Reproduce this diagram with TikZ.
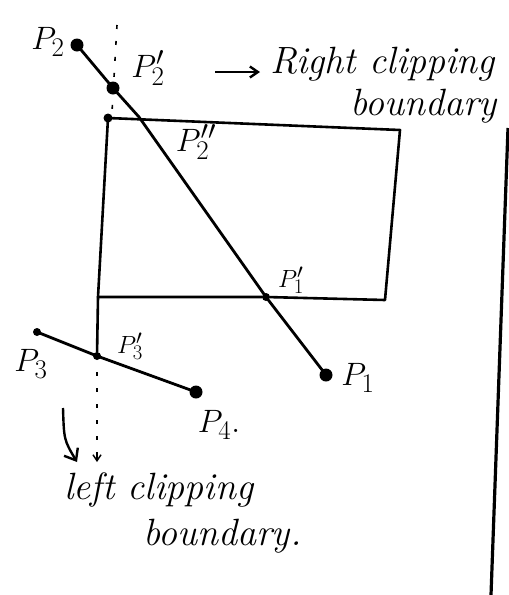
\documentclass[tikz,border=0pt]{standalone}
\usepackage{fontspec}
\usetikzlibrary{arrows.meta}
\newcommand{\biglab}[1]{\scalebox{1.3}{\Huge$#1$}}
\newcommand{\smllab}[1]{\scalebox{1.0}{\Huge$#1$}}
\begin{document}
\begin{tikzpicture}[x=1pt,y=-1pt,
  ln/.style={line width=2.8pt,line cap=round,line join=round},
  bd/.style={line width=2.6pt,line cap=round,line join=round},
  dot/.style={circle,fill=black,inner sep=0pt,minimum size=13pt},
  sdot/.style={circle,fill=black,inner sep=0pt,minimum size=8pt},
  lbl/.style={inner sep=0pt},
  txt/.style={font=\fontsize{38}{40}\selectfont\itshape,inner sep=0pt},
  dsh/.style={line width=1.6pt,dash pattern=on 4pt off 12pt}]
\useasboundingbox (0,0) rectangle (509,595);
% points
\node[dot] (P2) at (77,45) {};
\node[dot] (P2p) at (113,88) {};
\coordinate (P2pp) at (139,117);
\coordinate (TL) at (108,118);
\coordinate (TR) at (400,130);
\coordinate (BR) at (385,300);
\coordinate (BL) at (98,297);
\node[sdot] (P1p) at (266,297) {};
\node[dot] (P1) at (326,375) {};
\node[sdot] (P3) at (37,332) {};
\node[sdot] (P3p) at (97,356) {};
\node[dot] (P4) at (196,392) {};
% clipping window
\draw[bd] (TL) -- (TR) -- (BR) -- (P1p) -- (BL);
\draw[bd] (TL) -- (BL) -- (P3p);
\fill (TL) circle (4.5pt);
% line P2 P1
\draw[ln] (P2.center) -- (P2p.center) -- (P2pp) -- (P1p.center) -- (P1.center);
% line P3 P4
\draw[ln] (P3.center) -- (P3p.center) -- (P4.center);
% dashed boundary extensions
\coordinate (dt) at (117,25);
\coordinate (db) at (112,112);
\draw[dsh] (dt) -- (db);
\coordinate (lb) at (97,462);
\draw[dsh] (97,372) -- (lb);
\draw[line width=1.4pt,-{Straight Barb[length=6pt,width=8pt]}] (97,452) -- (lb);
% curved arrow
\coordinate (ca1) at (63,408);
\coordinate (ca2) at (77,462);
\draw[line width=2.4pt,-{Straight Barb[length=10pt,width=16pt]}] (ca1) .. controls (64,440) .. (ca2);
% arrow to right label
\coordinate (ra1) at (215,72);
\coordinate (ra2) at (260,72);
\draw[line width=2.4pt,-{Straight Barb[length=8pt,width=11pt]}] (ra1) -- (ra2);
% page edge line
\coordinate (pe1) at (508,128);
\coordinate (pe2) at (491,595);
\draw[line width=3.2pt] (pe1) -- (pe2);
% labels
\node[lbl] (lP2) at (48,42) {\biglab{P_2}};
\node[lbl] (lP2p) at (148,68) {\biglab{P_2'}};
\node[lbl] (lP2pp) at (196,142) {\biglab{P_2''}};
\node[lbl] (lP1p) at (291,280) {\smllab{P_1'}};
\node[lbl] (lP1) at (358,378) {\biglab{P_1}};
\node[lbl] (lP3) at (31,364) {\biglab{P_3}};
\node[lbl] (lP3p) at (130,346) {\smllab{P_3'}};
\node[lbl] (lP4) at (219,425) {\biglab{P_4.}};
\node[txt,anchor=west] (rc) at (270,64) {Right clipping};
\node[txt,anchor=west] (rb) at (350,106) {boundary};
\node[txt,anchor=west] (lc) at (64,490) {left clipping};
\node[txt,anchor=west] (lbd) at (143,536) {boundary.};
\end{tikzpicture}
\end{document}
